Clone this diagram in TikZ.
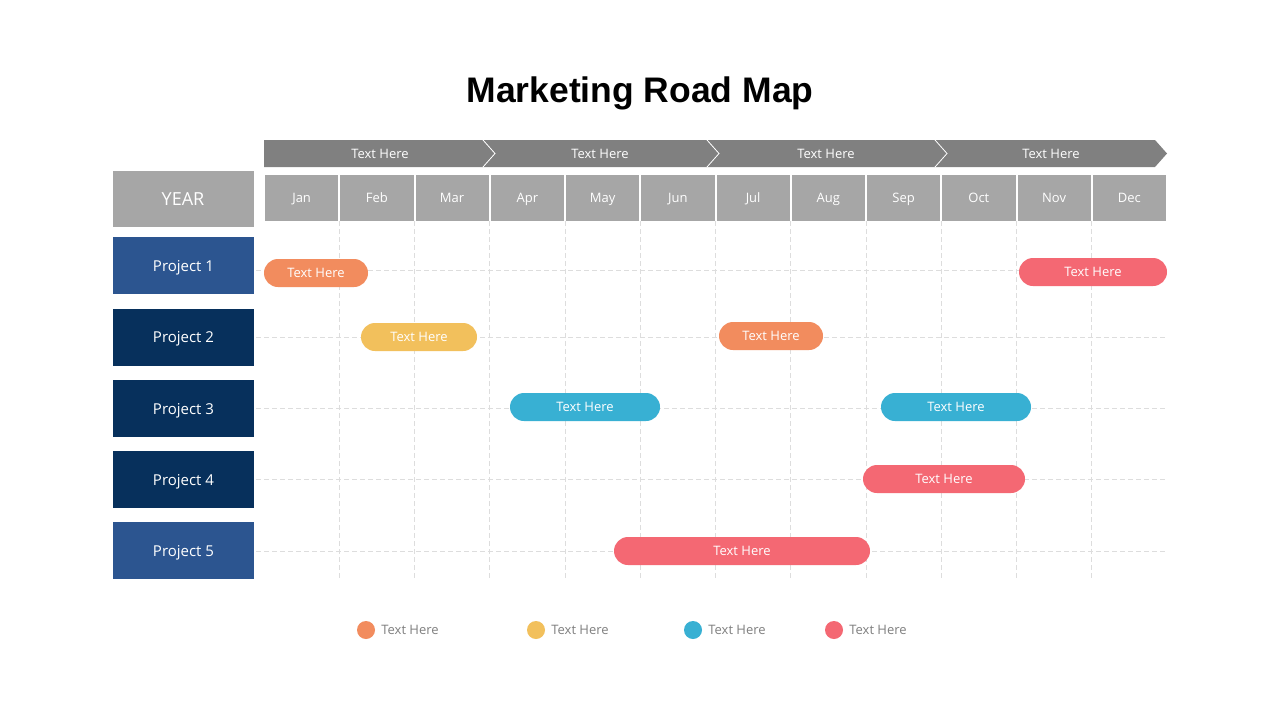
\documentclass[tikz,border=0pt]{standalone}
\usepackage{fontspec}
\setmainfont{Open Sans}
\newfontfamily\titlefont{Liberation Sans}
\usetikzlibrary{positioning}
\definecolor{hdrgray}{HTML}{808080}
\definecolor{mongray}{HTML}{A6A6A6}
\definecolor{projblue}{HTML}{2C5590}
\definecolor{projnavy}{HTML}{07305C}
\definecolor{gridgray}{HTML}{DDDDDD}
\definecolor{cOrange}{HTML}{F28C5E}
\definecolor{cYellow}{HTML}{F2C05C}
\definecolor{cBlue}{HTML}{38B0D3}
\definecolor{cRed}{HTML}{F46873}
\definecolor{legtext}{HTML}{7F7F7F}
\begin{document}
\begin{tikzpicture}[x=1pt, y=-1pt,
    txt/.style={text depth=0},
    month/.style={txt, rectangle, fill=mongray, minimum width=73.25, minimum height=46, inner sep=0, text=white, font=\fontsize{13}{15}\selectfont},
    proj/.style={txt, rectangle, minimum width=141, minimum height=57, inner sep=0, text=white, font=\fontsize{15}{18}\selectfont},
    bar/.style={txt, rectangle, rounded corners=14, minimum height=28, inner sep=0, text=white, font=\fontsize{13}{15}\selectfont},
    grid/.style={gridgray, dash pattern=on 5 off 3, line width=0.8},
    legdot/.style={circle, minimum size=18, inner sep=0},
    legtxt/.style={txt, right, inner sep=0, text=legtext, font=\fontsize{13}{15}\selectfont},
]
\useasboundingbox[fill=white] (0,0) rectangle (1280,720);
\node[anchor=base, font=\titlefont\bfseries\fontsize{35.5}{40}\selectfont] (title) at (640,102) {Marketing Road Map};
% header chevron
\fill[hdrgray] (264,140) -- (1155,140) -- (1167,153.5) -- (1155,167) -- (264,167) -- cycle;
\foreach \x in {483,707,935}
    \draw[white, line width=0.8] (\x,140) -- (\x+12,153.5) -- (\x,167);
\foreach \x/\n in {380/h1,600/h2,826/h3,1051/h4}
    \node[txt, text=white, font=\fontsize{13}{15}\selectfont] (\n) at (\x,153.5) {Text Here};
% months
\foreach \m [count=\i] in {Jan,Feb,Mar,Apr,May,Jun,Jul,Aug,Sep,Oct,Nov,Dec}
    \node[month] (m\i) at ({264+75.25*(\i-0.5)},198) {\m};
% grid
\foreach \i in {1,...,11}
    \draw[grid] ({264+75.25*\i},221) -- ({264+75.25*\i},580);
\foreach \y in {270,337,408,479,551}
    \draw[grid] (256,\y) -- (1165,\y);
% left column
\node[proj, fill=mongray, minimum height=56, font=\fontsize{18}{21}\selectfont] (year) at (183,199) {YEAR};
\node[proj, fill=projblue] (p1) at (183.5,265.5) {Project 1};
\node[proj, fill=projnavy] (p2) at (183.5,337) {Project 2};
\node[proj, fill=projnavy] (p3) at (183.5,408.5) {Project 3};
\node[proj, fill=projnavy] (p4) at (183.5,479.5) {Project 4};
\node[proj, fill=projblue] (p5) at (183.5,550.5) {Project 5};
% bars
\node[bar, fill=cOrange, minimum width=104] (b1a) at (316,273) {Text Here};
\node[bar, fill=cRed, minimum width=148] (b1b) at (1093,272) {Text Here};
\node[bar, fill=cYellow, minimum width=116] (b2a) at (419,337) {Text Here};
\node[bar, fill=cOrange, minimum width=104] (b2b) at (771,336) {Text Here};
\node[bar, fill=cBlue, minimum width=150] (b3a) at (585,407) {Text Here};
\node[bar, fill=cBlue, minimum width=150] (b3b) at (956,407) {Text Here};
\node[bar, fill=cRed, minimum width=162] (b4) at (944,479) {Text Here};
\node[bar, fill=cRed, minimum width=256] (b5) at (742,551) {Text Here};
% legend
\foreach \x/\c/\n in {366/cOrange/l1,536/cYellow/l2,693/cBlue/l3,834/cRed/l4}{
    \node[legdot, fill=\c] (\n) at (\x,630) {};
    \node[legtxt, right=6 of \n] (\n t) {Text Here};
}
\end{tikzpicture}
\end{document}
